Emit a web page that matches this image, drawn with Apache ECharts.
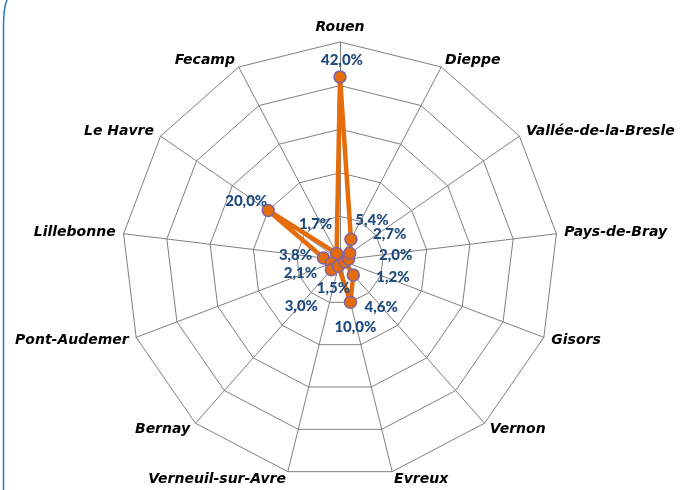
<!DOCTYPE html>
<html>
<head>
<meta charset="utf-8">
<script src="https://cdn.jsdelivr.net/npm/echarts@6/dist/echarts.min.js"></script>
<style>
html,body{margin:0;padding:0;background:#fff;}
#c{width:681px;height:490px;}
</style>
</head>
<body>
<div id="c"></div>
<script>
// Data (clockwise from the top)
const cities = ['Rouen','Dieppe','Vallée-de-la-Bresle','Pays-de-Bray','Gisors','Vernon','Evreux','Verneuil-sur-Avre','Bernay','Pont-Audemer','Lillebonne','Le Havre','Fecamp'];
const shares = [42.0, 5.4, 2.7, 2.0, 1.2, 4.6, 10.0, 1.5, 3.0, 2.1, 3.8, 20.0, 1.7];
const axisMax = 50;

// Layout / style only: label offsets (px) relative to each point
const labelOffsets = [[2,-17],[21,-19],[40,-19],[47,-4],[48,15],[28,32],[5,25],[-5,22],[-30,36],[-31,10],[-28,-3],[-22,-9],[-21,-29]];

const CENTER = [340, 260];
const RADIUS = 218;

// ECharts radar goes counter-clockwise; reorder so that the layout is clockwise
const order = [0].concat(cities.slice(1).map((_, i) => cities.length - 1 - i));
const indicator = order.map(i => ({ name: cities[i], min: 0, max: axisMax }));
const radarValues = order.map(i => shares[i]);

const fmt = v => v.toFixed(1).replace('.', ',') + '%';

const chart = echarts.init(document.getElementById('c'), null, { renderer: 'canvas' });
chart.setOption({
  backgroundColor: '#ffffff',
  animation: false,
  radar: {
    center: CENTER,
    radius: RADIUS,
    startAngle: 90,
    splitNumber: 5,
    shape: 'polygon',
    indicator: indicator,
    nameGap: 8,
    axisName: {
      color: '#000000',
      fontFamily: 'DejaVu Sans',
      fontWeight: 'bold',
      fontStyle: 'italic',
      fontSize: 14
    },
    axisLine: { lineStyle: { color: '#808080', width: 1 } },
    splitLine: { lineStyle: { color: '#808080', width: 1 } },
    splitArea: { show: false },
    axisTick: { show: false },
    axisLabel: { show: false }
  },
  polar: { center: CENTER, radius: RADIUS },
  angleAxis: {
    type: 'category', data: cities, startAngle: 90, clockwise: true, boundaryGap: false,
    show: false
  },
  radiusAxis: { min: 0, max: axisMax, show: false },
  series: [
    {
      type: 'radar',
      z: 2,
      symbol: 'circle',
      symbolSize: 12,
      lineStyle: { color: '#E46C0A', width: 4.5 },
      itemStyle: { color: '#E46C0A', borderColor: '#7F65A8', borderWidth: 1.5 },
      data: [{ value: radarValues, name: 'Part' }]
    },
    {
      type: 'scatter',
      coordinateSystem: 'polar',
      z: 5,
      symbolSize: 0,
      itemStyle: { color: '#1F4A7C', opacity: 1 },
      label: {
        show: true,
        position: 'inside',
        color: '#1F4A7C',
        opacity: 1,
        textBorderWidth: 0,
        fontFamily: 'Lato',
        fontWeight: 900,
        fontSize: 15,
        formatter: p => fmt(p.value[0])
      },
      data: cities.map((c, i) => ({
        value: [shares[i], c],
        label: { offset: labelOffsets[i] }
      }))
    }
  ],
  graphic: [
    {
      type: 'polyline',
      shape: { points: [[3.5, 490], [3.5, 26]] },
      style: { stroke: '#2E75B6', lineWidth: 1.5, fill: null }
    },
    {
      type: 'bezierCurve',
      shape: { x1: 3.5, y1: 26, cpx1: 3.5, cpy1: 8, x2: 7, y2: 0 },
      style: { stroke: '#2E75B6', lineWidth: 1.5, fill: null }
    }
  ]
});
</script>
</body>
</html>
